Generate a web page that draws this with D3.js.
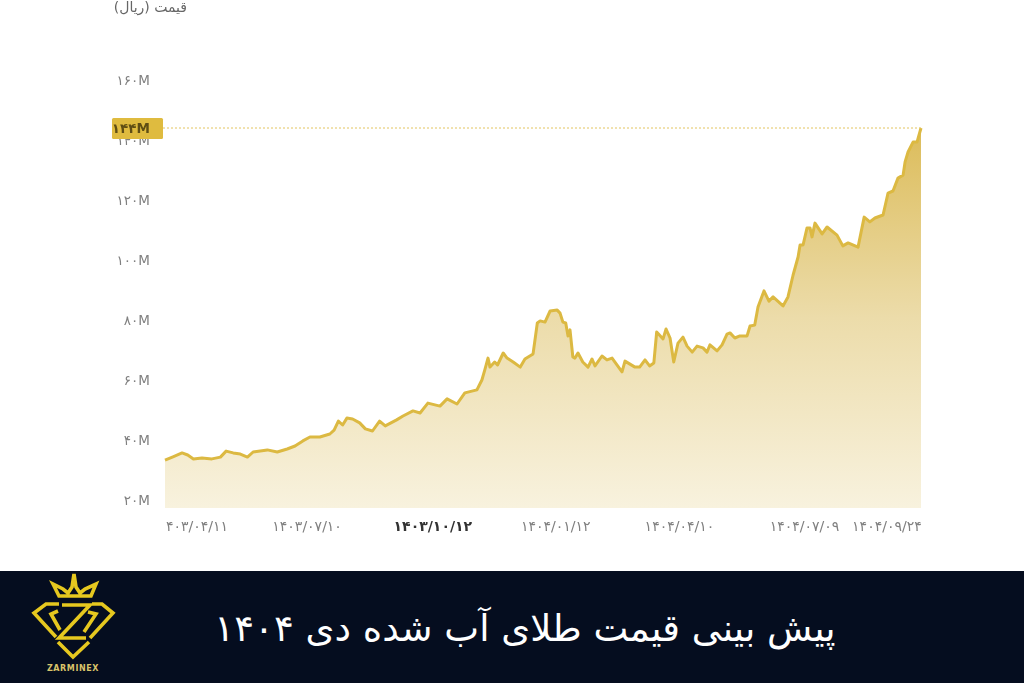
<!DOCTYPE html>
<html lang="fa">
<head>
<meta charset="utf-8">
<script src="https://cdn.jsdelivr.net/npm/d3@7/dist/d3.min.js"></script>
<style>
html,body{margin:0;padding:0;background:#fff;overflow:hidden}
svg{display:block}
text{font-family:"DejaVu Sans",sans-serif}
</style>
</head>
<body>
<svg id="c" width="1024" height="683"></svg>
<script>
const days=[0,5.6,12,16,20,26,33,39,43,48,53,58,62,72,79,86,91.5,97,102,109,116,119,122,125,128,132,137,141,146,151,155,163,167.5,174.5,179.5,185,193.5,198.5,205.5,211,219.5,223,225,227.3,228.7,232,234,238,240.7,245,250,253.3,259,262,264,267.4,271,276,278,280,282,283.6,285,287,288.5,290.6,294,297.7,300.5,302.6,307.5,311,314.6,321.6,323.7,330.7,334,337.8,341,344,346,350.5,352.6,355.4,358,361,364.5,367.4,371,374.4,378.6,381.4,383.5,388.5,392,395.5,397.6,401,404.6,409.6,411.7,415,417.3,421.5,425,427.9,434.9,438.4,442,445.5,446.9,449,451.8,453.9,455.3,457.4,462.4,465.9,472.9,477,480.7,487.7,492,496,499.6,505.3,508.8,512.3,515.8,519.4,520.8,522.9,526.4,529.2,532];
const prices=[33.3,34.4,35.7,35,33.7,34,33.7,34.3,36.3,35.7,35.3,34.3,36,36.7,36,37,38,39.7,41,41,42,43.3,46.3,45,47.3,47,45.7,43.7,43,46.3,44.7,46.7,48,49.7,49,52.3,51.3,53.7,52,55.7,56.7,60,63.3,67.3,64.3,66,65,69,67.3,66,64.3,67,68.7,79,79.7,79.3,83,83.3,82.3,79.3,79,74.7,76.7,67.7,67.3,69,66,64.3,67,64.7,68,66.7,67.3,62.7,66.3,64.3,64.3,66.7,64.7,65.7,76,73.7,77,74,66,72.3,74.3,71.3,69.3,71.3,70.7,69.3,71.7,69.7,71.7,75.3,75.7,74,74.7,74.7,78,78.3,84.3,89.7,86.3,87.7,84.7,87.7,95,101,105,105,110.7,110.7,107.7,112.3,108.7,111,108.3,104.7,105.7,104.3,114.3,112.7,114,115,122.3,123,127.3,128.3,132.7,136,139.3,139.3,144];
const yTicks=[20,40,60,80,100,120,140,160];
const yTickLabels=["۲۰M","۴۰M","۶۰M","۸۰M","۱۰۰M","۱۲۰M","۱۴۰M","۱۶۰M"];
const xTickLabels=["۴۰۳/۰۴/۱۱","۱۴۰۳/۰۷/۱۰","۱۴۰۳/۱۰/۱۲","۱۴۰۴/۰۱/۱۲","۱۴۰۴/۰۴/۱۰","۱۴۰۴/۰۷/۰۹","۱۴۰۴/۰۹/۲۴"];
const xTickDays=[22.5,100,188.5,275,362,450,508];
const boldTick="۱۴۰۳/۱۰/۱۲";
const currentValue=144, currentLabel="۱۴۴M";
const yAxisTitle="قیمت (ریال)";
const pageTitle="پیش بینی قیمت طلای آب شده دی ۱۴۰۴";
const brand="ZARMINEX";

const svg=d3.select("#c");
const x=d3.scaleLinear().domain([0,532]).range([165,921]);
const y=d3.scaleLinear().domain([20,160]).range([500,80]);
const baseValue=17.3;
const data=days.map((d,i)=>({d,v:prices[i]}));

const defs=svg.append("defs");
const g=defs.append("linearGradient").attr("id","fill").attr("gradientUnits","userSpaceOnUse")
  .attr("x1",0).attr("x2",0).attr("y1",y(currentValue)).attr("y2",y(baseValue));
g.append("stop").attr("offset",0).attr("stop-color","#dcbc5a");
g.append("stop").attr("offset",0.5).attr("stop-color","#ecdcaa");
g.append("stop").attr("offset",1).attr("stop-color","#f8f2de");
const f=defs.append("filter").attr("id","soft");
f.append("feGaussianBlur").attr("stdDeviation",0.45);
const f2=defs.append("filter").attr("id","softLine");
f2.append("feGaussianBlur").attr("stdDeviation",0.35);

const chart=svg.append("g");
chart.append("path").datum(data)
  .attr("fill","url(#fill)")
  .attr("d",d3.area().x(d=>x(d.d)).y0(y(baseValue)).y1(d=>y(d.v)));
chart.append("path").datum(data)
  .attr("fill","none").attr("stroke","#dcb942").attr("stroke-width",3).attr("stroke-linejoin","round")
  .attr("filter","url(#softLine)")
  .attr("d",d3.line().x(d=>x(d.d)).y(d=>y(d.v)));

const labels=svg.append("g").attr("filter","url(#soft)");
const yAxis=d3.axisLeft(y).tickValues(yTicks).tickSize(0).tickPadding(0)
  .tickFormat((d,i)=>yTickLabels[i]);
const ya=labels.append("g").attr("transform","translate(150,0)").call(yAxis);
ya.select(".domain").remove();
ya.selectAll("text").attr("fill","#808080").attr("font-size",13.5).style("direction","ltr");

labels.append("g").selectAll("text").data(xTickLabels).join("text")
  .attr("x",(d,i)=>x(xTickDays[i])).attr("y",531)
  .attr("text-anchor","middle").attr("font-size",14)
  .attr("font-weight",d=>d===boldTick?"bold":"normal")
  .attr("fill",d=>d===boldTick?"#333":"#808080")
  .style("direction","ltr").text(d=>d);

labels.append("text").attr("x",187).attr("y",12).attr("text-anchor","start")
  .attr("font-size",14).attr("fill","#666").style("direction","rtl").text(yAxisTitle);

svg.append("line").attr("x1",163).attr("x2",x(532)).attr("y1",y(currentValue)).attr("y2",y(currentValue))
  .attr("stroke","#e3c45f").attr("stroke-width",1).attr("stroke-dasharray","2 2");
svg.append("rect").attr("x",112).attr("y",y(currentValue)-10).attr("width",51).attr("height",21).attr("rx",1.5).attr("fill","#dfbb3f");
svg.append("text").attr("x",150).attr("y",y(currentValue)+5).attr("text-anchor","end")
  .attr("font-size",13.5).attr("font-weight","bold").attr("fill","#5e4d12").attr("filter","url(#soft)")
  .style("direction","ltr").text(currentLabel);

svg.append("rect").attr("x",0).attr("y",571).attr("width",1024).attr("height",112).attr("fill","#050d1f");
svg.append("text").attr("x",525).attr("y",641).attr("text-anchor","middle")
  .attr("font-size",37).attr("fill","#fff").style("direction","rtl").text(pageTitle);

const logo=svg.append("g").attr("fill","none").attr("stroke","#e6c81f").attr("stroke-width",3.6).attr("stroke-linejoin","miter");
[
 "M53,584 L59,596 L91,596 L96,584 L85,589 L80,593 L76,587 L74,574 L72,587 L68,593 L63,589 Z",
 "M59,604 L46,604 L34,613 L56,637",
 "M58,611 L51,614 L60,630",
 "M62,605 L90,605 L59,638 L86,638",
 "M58,642 L73,657 L89,642",
 "M92,604 L102,604 L113,613 L90,638",
 "M88,612 L96,614 L84,632"
].forEach(p=>logo.append("path").attr("d",p));
svg.append("text").attr("x",73).attr("y",671).attr("text-anchor","middle")
  .attr("font-size",8).attr("font-weight","bold").attr("letter-spacing",0.6).attr("fill","#d9c36a").text(brand);
</script>
</body>
</html>
